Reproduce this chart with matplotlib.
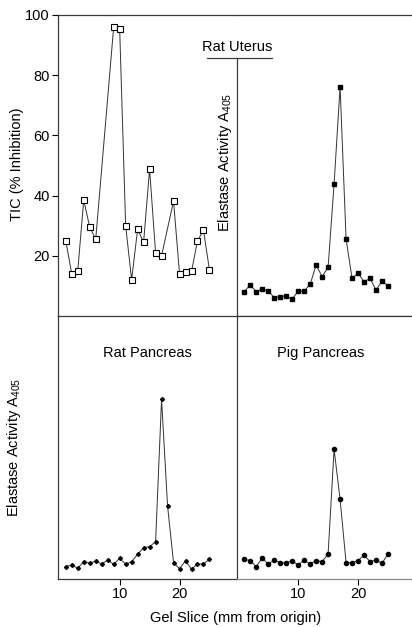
import matplotlib.pyplot as plt
import numpy as np

plt.rcParams['font.family'] = ['Liberation Sans', 'DejaVu Sans']
plt.rcParams['mathtext.default'] = 'regular'
plt.rcParams['font.size'] = 10.5

# TIC profile (top left)
tic_x = [1, 2, 3, 4, 5, 6, 9, 10, 11, 12, 13, 14, 15, 16, 17,
         19, 20, 21, 22, 23, 24, 25]
tic_y = [25, 14, 15, 38.5, 29.5, 25.5, 96, 95.5, 30, 12, 28.8, 24.5,
         48.8, 21, 20, 38.2, 14, 14.6, 14.8, 25, 28.5, 15.3]

# elastase activity, gel slices 1..25 (arbitrary A405 units)
slices = np.arange(1, 26)
rat_uterus = [0.081, 0.103, 0.081, 0.089, 0.084, 0.061, 0.064, 0.067, 0.056,
              0.083, 0.083, 0.105, 0.169, 0.131, 0.162, 0.438, 0.762, 0.256,
              0.125, 0.142, 0.114, 0.125, 0.086, 0.116, 0.100]
rat_pancreas = [0.047, 0.053, 0.041, 0.066, 0.060, 0.068, 0.057, 0.072, 0.056,
                0.079, 0.056, 0.066, 0.094, 0.119, 0.123, 0.142, 0.683, 0.278,
                0.062, 0.039, 0.070, 0.037, 0.057, 0.057, 0.075]
pig_pancreas = [0.075, 0.070, 0.047, 0.079, 0.057, 0.072, 0.062, 0.062, 0.070,
                0.053, 0.072, 0.057, 0.070, 0.066, 0.095, 0.493, 0.303, 0.062,
                0.062, 0.070, 0.091, 0.066, 0.072, 0.060, 0.095]

W, H = 412, 627
fig = plt.figure(figsize=(W / 100, H / 100), dpi=100)


def box(x0, y0, x1, y1):
    """Axes rectangle from pixel corners (top-left origin)."""
    return [x0 / W, 1 - y1 / H, (x1 - x0) / W, (y1 - y0) / H]


ax_tic = fig.add_axes(box(58, 15, 237, 316))
ax_ut = fig.add_axes(box(237, 15, 412, 316))
ax_rp = fig.add_axes(box(58, 316, 237, 579))
ax_pp = fig.add_axes(box(237, 316, 412, 579))

line_c = '#333333'
spine_c = '#3a3a3a'

for ax in (ax_tic, ax_ut, ax_rp, ax_pp):
    ax.spines['right'].set_visible(False)
    for s in ax.spines.values():
        s.set_color(spine_c)
        s.set_linewidth(0.9)
    ax.tick_params(colors='black', length=4, width=0.8, pad=2)

# TIC panel
ax_tic.plot(tic_x, tic_y, '-', color=line_c, lw=0.7, marker='s', ms=3.8,
            mfc='white', mec='black', mew=0.8)
ax_tic.set_xlim(-0.3, 29.6)
ax_tic.set_ylim(0, 100)
ax_tic.set_yticks([20, 40, 60, 80, 100])
ax_tic.set_xticks([])
ax_tic.spines['bottom'].set_visible(False)

# Rat uterus panel
ax_ut.plot(slices, rat_uterus, '-', color=line_c, lw=0.7, marker='s',
           ms=2.6, mfc='black', mec='black')
ax_ut.set_xlim(-0.2, 29.0)
ax_ut.set_ylim(0, 1)
ax_ut.set_xticks([])
ax_ut.set_yticks([])
ax_ut.spines['left'].set_bounds(0, 0.858)
ax_ut.plot([-0.171, 0.2], [0.858, 0.858], transform=ax_ut.transAxes,
           color=spine_c, lw=0.9, clip_on=False)
ax_ut.text(0.0, 0.895, 'Rat Uterus', transform=ax_ut.transAxes,
           ha='center', va='center')

# Rat pancreas panel
ax_rp.plot(slices, rat_pancreas, '-', color=line_c, lw=0.7, marker='D',
           ms=2.0, mfc='black', mec='black')
ax_rp.set_xlim(-0.3, 29.6)
ax_rp.set_ylim(0, 1)
ax_rp.set_xticks([10, 20])
ax_rp.set_yticks([])
ax_rp.text(0.5, 0.86, 'Rat Pancreas', transform=ax_rp.transAxes,
           ha='center', va='center')

# Pig pancreas panel
ax_pp.plot(slices, pig_pancreas, '-', color=line_c, lw=0.7, marker='o',
           ms=3.0, mfc='black', mec='black')
ax_pp.set_xlim(-0.2, 29.0)
ax_pp.set_ylim(0, 1)
ax_pp.set_xticks([10, 20])
ax_pp.set_yticks([])
ax_pp.spines['bottom'].set_color('#8a8a8a')
ax_pp.text(0.48, 0.86, 'Pig Pancreas', transform=ax_pp.transAxes,
           ha='center', va='center')

# axis labels
fig.text(17.5 / W, 1 - 164.5 / H, 'TIC (% Inhibition)', rotation=90,
         ha='center', va='center')
fig.text(225 / W, 1 - 162.5 / H, 'Elastase Activity A$_{405}$', rotation=90,
         ha='center', va='center')
fig.text(14 / W, 1 - 447 / H, 'Elastase Activity A$_{405}$', rotation=90,
         ha='center', va='center')
fig.text(236 / W, 1 - 618 / H, 'Gel Slice (mm from origin)',
         ha='center', va='center')

fig.savefig('out.png', dpi=100)
